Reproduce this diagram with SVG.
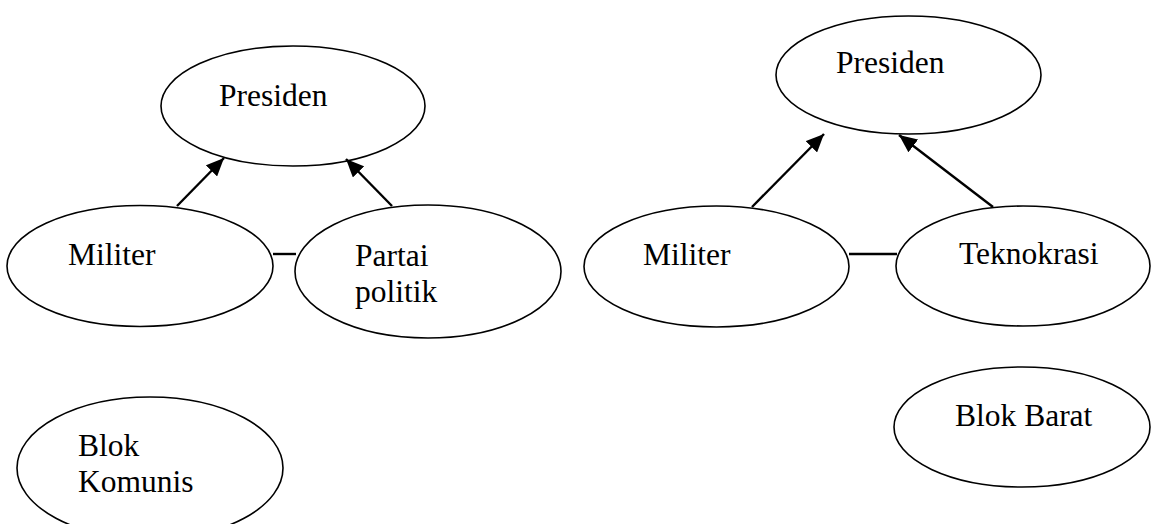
<svg xmlns="http://www.w3.org/2000/svg" width="1152" height="524" viewBox="0 0 1152 524">
<style>
.node ellipse{fill:#fff;stroke:#000;stroke-width:1.6}
.node text{font-family:"Liberation Serif","Times New Roman",serif;font-size:31.5px;fill:#000}
.conn line{stroke:#000;stroke-width:2.4}
</style>
<defs>
<marker id="ah" markerUnits="userSpaceOnUse" viewBox="0 0 18 16" refX="18" refY="8" markerWidth="18" markerHeight="16" orient="auto">
<path d="M0,0 L18,8 L0,16 z" fill="#000"/>
</marker>
</defs>
<rect width="1152" height="524" fill="#fff"/>
<g id="presiden-left" class="node"><ellipse cx="293" cy="106" rx="132" ry="60"/><text x="219" y="106">Presiden</text></g>
<g id="militer-left" class="node"><ellipse cx="140" cy="266" rx="133" ry="60.5"/><text x="68" y="265">Militer</text></g>
<g id="partai-politik" class="node"><ellipse cx="428" cy="271.5" rx="133" ry="66.5"/><text x="355" y="266">Partai</text><text x="355" y="302">politik</text></g>
<g id="blok-komunis" class="node"><ellipse cx="150" cy="468" rx="133" ry="71"/><text x="78" y="456">Blok</text><text x="78" y="492">Komunis</text></g>
<g id="presiden-right" class="node"><ellipse cx="908.5" cy="75" rx="132.5" ry="59"/><text x="836" y="73">Presiden</text></g>
<g id="militer-right" class="node"><ellipse cx="716.5" cy="266.5" rx="132.5" ry="60.5"/><text x="643" y="265">Militer</text></g>
<g id="teknokrasi" class="node"><ellipse cx="1023" cy="266" rx="127" ry="60"/><text x="959" y="264">Teknokrasi</text></g>
<g id="blok-barat" class="node"><ellipse cx="1022" cy="427" rx="128" ry="60"/><text x="955" y="426">Blok Barat</text></g>
<g id="connectors" class="conn">
<line x1="177" y1="206" x2="224" y2="158" marker-end="url(#ah)"/>
<line x1="392" y1="206" x2="346" y2="159" marker-end="url(#ah)"/>
<line x1="752" y1="207" x2="824" y2="134" marker-end="url(#ah)"/>
<line x1="993" y1="207" x2="899" y2="135" marker-end="url(#ah)"/>
<line x1="273" y1="254" x2="296" y2="254"/>
<line x1="849" y1="254" x2="897" y2="254"/>
</g>
</svg>
